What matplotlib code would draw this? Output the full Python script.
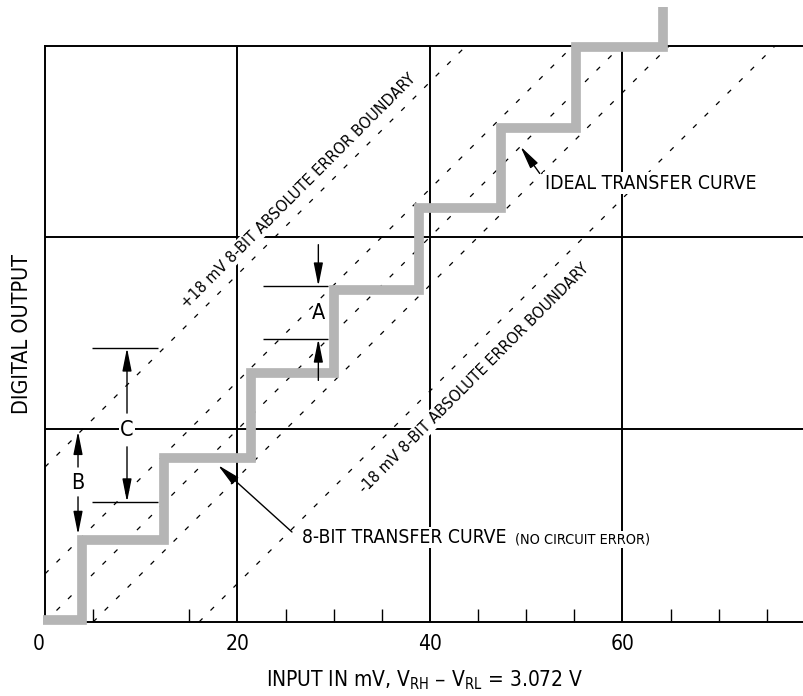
import matplotlib
matplotlib.use('Agg')
import matplotlib.pyplot as plt

plt.rcParams['font.family'] = ['DejaVu Sans']
plt.rcParams['font.stretch'] = 'condensed'
plt.rcParams['mathtext.default'] = 'regular'

# 8-bit transfer curve (staircase), both axes in mV
riser_x = [-0.2, 3.84, 12.36, 21.40, 30.03, 38.86, 47.38, 55.17, 64.2]
level_y = [0.2, 8.5, 17.0, 25.9, 34.5, 43.0, 51.3, 59.7, 63.9]

# dashed diagonals: x offset of +18 mV boundary, half-LSB lines, ideal, -18 mV boundary
line_offsets = [-16.1, -5.0, 0.0, 5.0, 16.0]

major_x = [0, 20, 40, 60]
major_labels = ['0', '20', '40', '60']
minor_x = [5, 15, 25, 30, 35, 45, 50, 55, 65, 70, 75]
grid_x = [20, 40, 60]
grid_y = [20, 40]

# dimension markers A, B, C
a_lines_y = [34.9, 29.4]
a_lines_x = [22.6, 29.4]
a_x = 28.4
c_lines_y = [28.47, 12.47]
c_lines_x = [4.88, 11.74]
c_x = 8.52
b_x = 3.43

fig = plt.figure(figsize=(8.04, 6.96), dpi=100)
ax = fig.add_axes([45 / 804, 74 / 696, 1 - 45 / 804, 576 / 696])
ax.set_xlim(0, 78.86)
ax.set_ylim(0, 59.84)

for side in ['left', 'bottom', 'top']:
    ax.spines[side].set_linewidth(1.4)
ax.spines['right'].set_visible(False)

for gx in grid_x:
    ax.axvline(gx, color='k', lw=1.4, zorder=1)
for gy in grid_y:
    ax.axhline(gy, color='k', lw=1.4, zorder=1)

for off in line_offsets:
    ax.axline((off, 0), slope=1, color='k', lw=0.9, linestyle=(0, (4, 9)), zorder=2)

ax.step(riser_x, level_y, where='post', color='#b5b5b5', lw=7,
        solid_joinstyle='miter', solid_capstyle='butt', clip_on=False, zorder=3)

ax.set_xticks(major_x, major_labels)
ax.set_xticks(minor_x, minor=True)
ax.set_yticks([])
ax.tick_params(axis='x', which='major', length=0, pad=9, labelsize=15)
ax.tick_params(axis='x', which='minor', direction='in', length=9.5, width=1.0)
ax.get_xticklabels()[0].set_ha('right')

ax.set_xlabel('INPUT IN mV, V$_{RH}$ – V$_{RL}$ = 3.072 V', fontsize=15, labelpad=10)
ax.set_ylabel('DIGITAL OUTPUT', fontsize=15.5, labelpad=9)

white = dict(facecolor='white', edgecolor='none', pad=1)
ax.text(26.3, 44.8, '+18 mV 8-BIT ABSOLUTE ERROR BOUNDARY', rotation=45,
        rotation_mode='anchor', ha='center', va='center', fontsize=11.7, bbox=white, zorder=4)
ax.text(44.6, 25.35, '-18 mV 8-BIT ABSOLUTE ERROR BOUNDARY', rotation=45,
        rotation_mode='anchor', ha='center', va='center', fontsize=11.7, bbox=white, zorder=4)

ax.text(51.9, 45.0, 'IDEAL TRANSFER CURVE', fontsize=13.9, va='baseline', bbox=white, zorder=4)
ax.text(26.7, 8.2, '8-BIT TRANSFER CURVE', fontsize=13.9, va='baseline', bbox=white, zorder=4)
ax.text(48.8, 8.2, '(NO CIRCUIT ERROR)', fontsize=10.4, va='baseline', bbox=white, zorder=4)


def arrow(tail, head):
    ax.annotate('', xy=head, xytext=tail, zorder=5,
                arrowprops=dict(arrowstyle='-|>,head_length=1.0,head_width=0.2',
                                color='k', lw=1.0, shrinkA=0, shrinkB=0, mutation_scale=14))


arrow((51.4, 46.6), (49.4, 49.4))
arrow((25.66, 9.35), (17.97, 16.3))

# A
ax.hlines(a_lines_y, a_lines_x[0], a_lines_x[1], color='k', lw=1.0, zorder=4)
arrow((a_x, 39.2), (a_x, a_lines_y[0]))
arrow((a_x, 25.1), (a_x, a_lines_y[1]))
ax.text(a_x, 32.1, 'A', fontsize=15.5, ha='center', va='center', zorder=5)

# C
ax.hlines(c_lines_y, c_lines_x[0], c_lines_x[1], color='k', lw=1.0, zorder=4)
arrow((c_x, 21.7), (c_x, c_lines_y[0]))
arrow((c_x, 18.2), (c_x, c_lines_y[1]))
ax.text(c_x, 19.95, 'C', fontsize=15.5, ha='center', va='center', bbox=white, zorder=5)

# B
arrow((b_x, 16.1), (b_x, 19.8))
arrow((b_x, 13.0), (b_x, 9.1))
ax.text(b_x, 14.44, 'B', fontsize=15.5, ha='center', va='center', zorder=5)

fig.savefig('out.png', dpi=100)
